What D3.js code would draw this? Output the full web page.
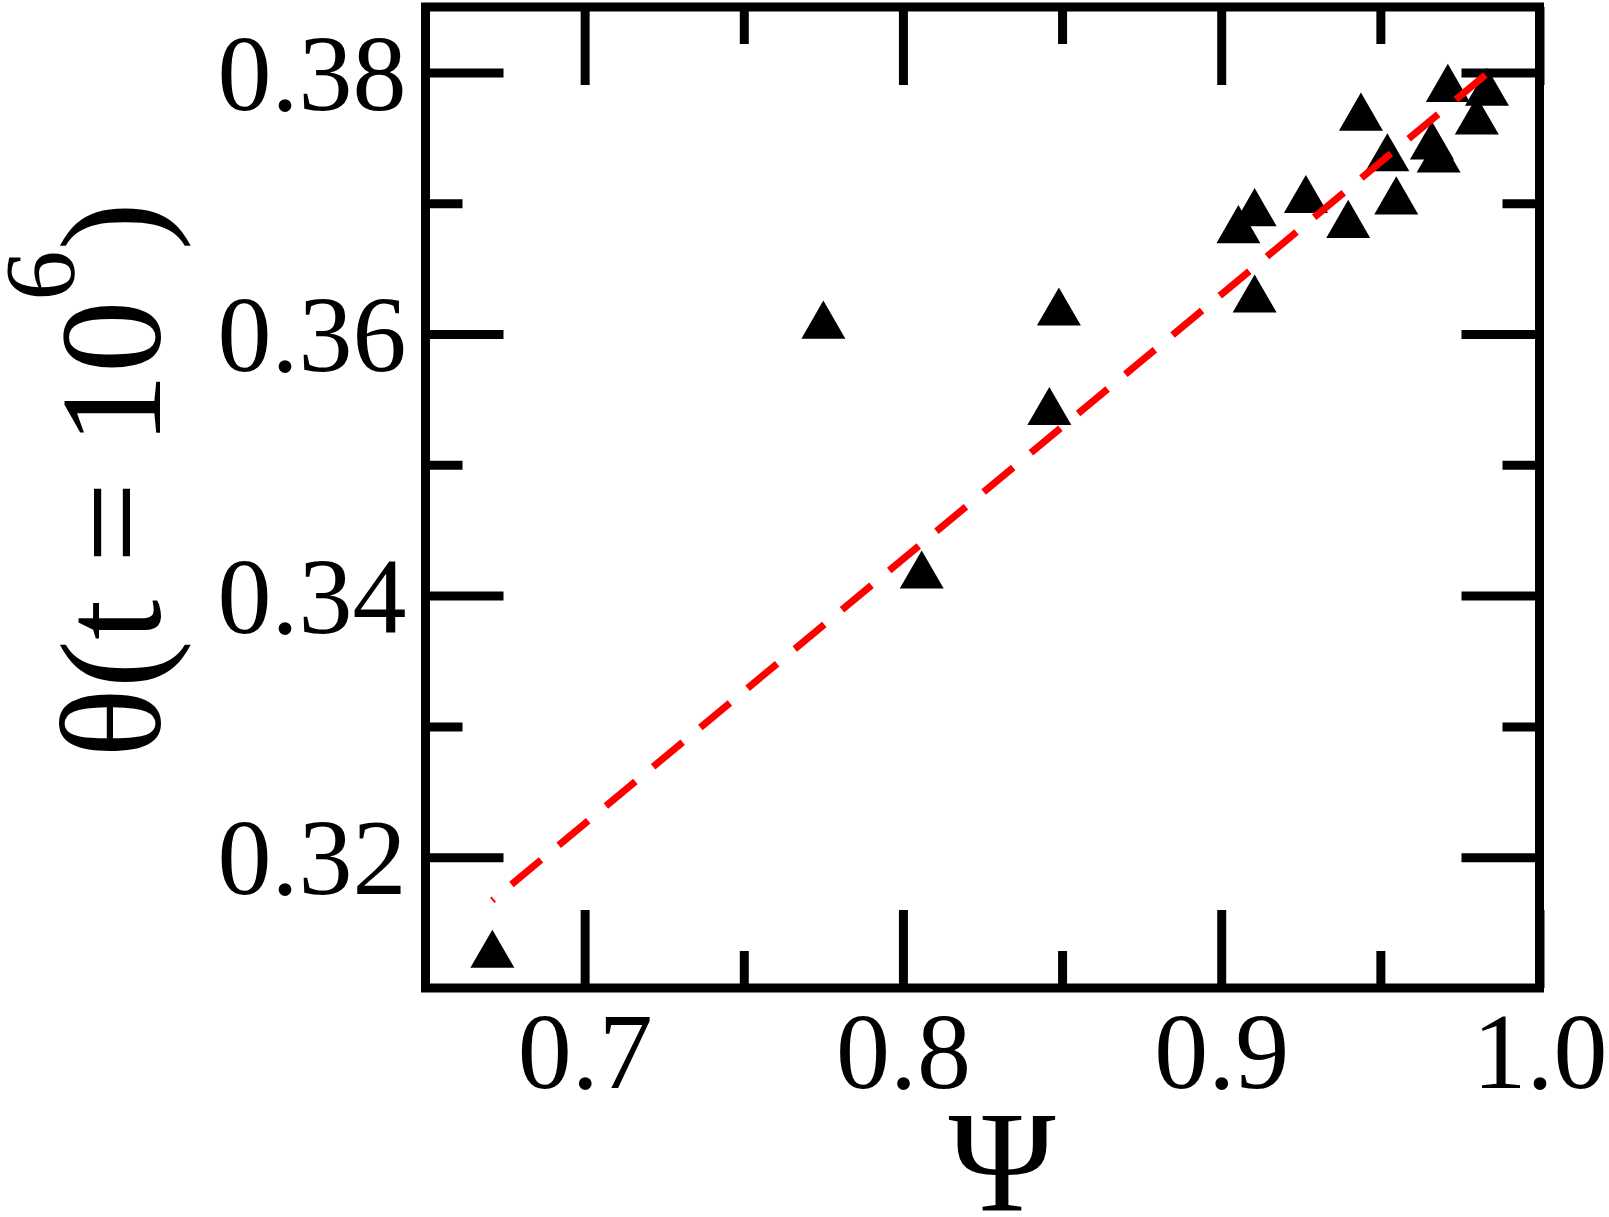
<!DOCTYPE html>
<html>
<head>
<meta charset="utf-8">
<script src="https://cdn.jsdelivr.net/npm/d3@7"></script>
<style>
  body { margin: 0; background: #fff; }
  svg { display: block; }
  .axis text { font-family: "Liberation Serif", "Times New Roman", serif; fill: #000; }
  .axis path { display: none; }
</style>
</head>
<body>
<div id="chart"></div>
<script>
// data
const psi   = [0.6710, 0.7750, 0.8059, 0.8460, 0.8490, 0.9054, 0.9105, 0.9105, 0.9266,
               0.9399, 0.9439, 0.9522, 0.9550, 0.9662, 0.9683, 0.9712, 0.9803, 0.9835];
const theta = [0.3130, 0.3611, 0.3420, 0.3545, 0.3621, 0.3684, 0.3697, 0.3631, 0.3707,
               0.3688, 0.3770, 0.3739, 0.3706, 0.3748, 0.3738, 0.3792, 0.3767, 0.3789];

// linear fit (drawn from the upper end down)
const fitX = [0.9830, 0.6710];
const fitY = [0.3798, 0.3167];

const xMajor = [0.7, 0.8, 0.9, 1.0];
const xMinor = [0.75, 0.85, 0.95];
const yMajor = [0.32, 0.34, 0.36, 0.38];
const yMinor = [0.33, 0.35, 0.37];

const W = 1609, H = 1217;
const plotL = 425.5, plotR = 1539.5, plotT = 7, plotB = 988;
const majorLen = 78, minorLen = 37, lw = 9;
const tickFont = 108;

const svg = d3.select("#chart").append("svg")
    .attr("width", W)
    .attr("height", H);

svg.append("rect").attr("width", W).attr("height", H).attr("fill", "#fff");

const x = d3.scaleLinear().domain([0.65, 1.0]).range([plotL, plotR]);
const y = d3.scaleLinear().domain([0.31, 0.385]).range([plotB, plotT]);

// ticks on all four sides, pointing inward
function tickAxis(axisFn, scale, values, len, pos, labels, fmt) {
    const ax = axisFn(scale).tickValues(values).tickSize(-len).tickSizeOuter(0);
    ax.tickFormat(labels ? d3.format(fmt) : () => "");
    const g = svg.append("g").attr("class", "axis").attr("transform", pos).call(ax);
    g.selectAll(".tick line").attr("stroke", "#000").attr("stroke-width", lw);
    return g;
}

const gx = tickAxis(d3.axisBottom, x, xMajor, majorLen, `translate(0,${plotB})`, true, ".1f");
gx.selectAll(".tick text")
    .attr("y", 100).attr("dy", null)
    .style("font-size", tickFont + "px");
tickAxis(d3.axisBottom, x, xMinor, minorLen, `translate(0,${plotB})`, false);
tickAxis(d3.axisTop, x, xMajor, majorLen, `translate(0,${plotT})`, false);
tickAxis(d3.axisTop, x, xMinor, minorLen, `translate(0,${plotT})`, false);

const gy = tickAxis(d3.axisLeft, y, yMajor, majorLen, `translate(${plotL},0)`, true, ".2f");
gy.selectAll(".tick text")
    .attr("x", -19).attr("dy", "0.34em")
    .style("font-size", tickFont + "px");
tickAxis(d3.axisLeft, y, yMinor, minorLen, `translate(${plotL},0)`, false);
tickAxis(d3.axisRight, y, yMajor, majorLen, `translate(${plotR},0)`, false);
tickAxis(d3.axisRight, y, yMinor, minorLen, `translate(${plotR},0)`, false);

// frame
svg.append("rect")
    .attr("x", plotL).attr("y", plotT)
    .attr("width", plotR - plotL).attr("height", plotB - plotT)
    .attr("fill", "none")
    .attr("stroke", "#000")
    .attr("stroke-width", lw);

// data points: filled triangles
const tri = 44, triH = tri * Math.sqrt(3) / 2;
const triPath = `M0,${-triH / 2}L${tri / 2},${triH / 2}L${-tri / 2},${triH / 2}Z`;
svg.append("g").selectAll("path")
    .data(psi.map((p, i) => [p, theta[i]]))
    .join("path")
    .attr("transform", d => `translate(${x(d[0])},${y(d[1])})`)
    .attr("d", triPath)
    .attr("fill", "#000");

// red dashed fit
const line = d3.line().x(d => x(d[0])).y(d => y(d[1]));
svg.append("path")
    .datum(fitX.map((v, i) => [v, fitY[i]]))
    .attr("d", line)
    .attr("fill", "none")
    .attr("stroke", "#ff0000")
    .attr("stroke-width", 7)
    .attr("stroke-dasharray", "38.4,23");

// axis titles
svg.append("text")
    .attr("x", 1002).attr("y", 1211)
    .attr("text-anchor", "middle")
    .style("font-family", "'Liberation Serif', 'Times New Roman', serif")
    .style("font-size", "145px")
    .text("Ψ");

const yl = svg.append("text")
    .attr("transform", "translate(160,480) rotate(-90)")
    .attr("text-anchor", "middle")
    .style("font-family", "'Liberation Serif', 'Times New Roman', serif")
    .style("font-size", "145px");
yl.append("tspan").text("θ(t = 10");
yl.append("tspan").attr("dy", -87).style("font-size", "100px").text("6");
yl.append("tspan").attr("dy", 87).text(")");
</script>
</body>
</html>
